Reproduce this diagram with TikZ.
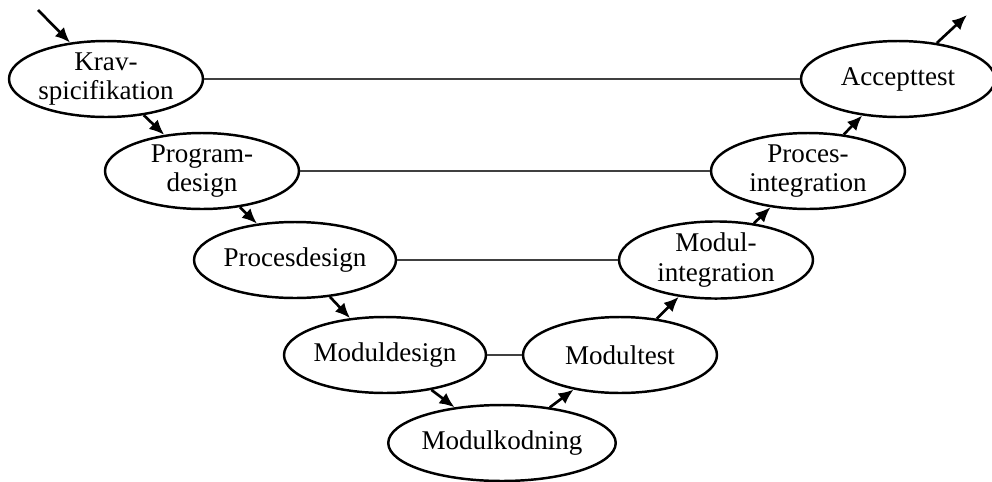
\documentclass[tikz,border=0pt]{standalone}
\usepackage{fontspec}
\setmainfont{Liberation Serif}
\usetikzlibrary{shapes.geometric,arrows.meta}

\begin{document}
\begin{tikzpicture}[x=0.02cm,y={(0cm,-0.02cm)},
    phase/.style={ellipse,draw,line width=1.4pt,inner sep=0pt,minimum width=3.88cm,minimum height=1.52cm,align=center,font=\fontsize{15.4}{17}\selectfont},
    flow/.style={-{Latex[length=3mm,width=2.6mm]},line width=1.5pt},
    link/.style={line width=0.8pt,black!75}]
    \useasboundingbox (0,0) rectangle (992,481);
    \node at (106,79) [phase] (krav) {Krav-\\spicifikation};
    \node at (202,171) [phase] (prog) {Program-\\design};
    \node at (295,260) [phase] (procd) {Procesdesign};
    \node at (385,355) [phase] (modd) {Moduldesign};
    \node at (502,443) [phase] (modk) {Modulkodning};
    \node at (620,355) [phase] (modt) {Modultest};
    \node at (716,260) [phase] (modi) {Modul-\\integration};
    \node at (808,171) [phase] (proci) {Proces-\\integration};
    \node at (898,79) [phase] (accept) {Accepttest};
    \coordinate (start) at (38,10);
    \coordinate (exit) at (967,15);
    \draw[flow] (start) -- (krav);
    \draw[flow] (krav) -- (prog);
    \draw[flow] (prog) -- (procd);
    \draw[flow] (procd) -- (modd);
    \draw[flow] (modd) -- (modk);
    \draw[flow] (modk) -- (modt);
    \draw[flow] (modt) -- (modi);
    \draw[flow] (modi) -- (proci);
    \draw[flow] (proci) -- (accept);
    \draw[flow] (accept) -- (exit);
    \draw[link] (krav) -- (accept) (prog) -- (proci) (procd) -- (modi) (modd) -- (modt);
\end{tikzpicture}
\end{document}
